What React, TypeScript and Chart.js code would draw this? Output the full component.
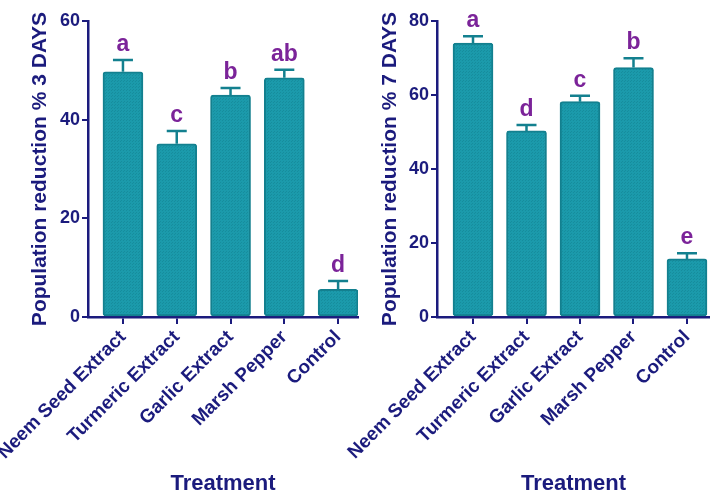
import React, { useEffect, useRef } from 'react';
import { Chart, registerables } from 'chart.js';

Chart.register(...registerables);

const categories = ['Neem Seed Extract', 'Turmeric Extract', 'Garlic Extract', 'Marsh Pepper', 'Control'];

const days3Values = [49.7, 35.1, 45.0, 48.5, 5.6];
const days3Errors = [2.4, 2.6, 1.4, 1.6, 1.7];
const days3Letters = ['a', 'c', 'b', 'ab', 'd'];
const days3Ticks = [0, 20, 40, 60];

const days7Values = [74.0, 50.3, 58.2, 67.4, 15.7];
const days7Errors = [1.9, 1.6, 1.6, 2.5, 1.5];
const days7Letters = ['a', 'd', 'c', 'b', 'e'];
const days7Ticks = [0, 20, 40, 60, 80];

const NAVY = '#1b1b7d';
const PURPLE = '#7b2399';
const TEAL = '#1b9aab';
const TEAL_DOT = '#168d9d';
const TEAL_DARK = '#13808f';
const FONT = "'Liberation Sans', Arial, sans-serif";

function makePattern(): CanvasPattern | string {
  const c = document.createElement('canvas');
  c.width = 3;
  c.height = 3;
  const g = c.getContext('2d');
  if (!g) return TEAL;
  g.fillStyle = TEAL;
  g.fillRect(0, 0, 3, 3);
  g.fillStyle = TEAL_DOT;
  g.fillRect(0, 0, 1, 1);
  g.fillRect(1, 2, 1, 1);
  const pat = g.createPattern(c, 'repeat');
  return pat || TEAL;
}

type PanelProps = {
  values: number[];
  errors: number[];
  letters: string[];
  ticks: number[];
  yTitle: string;
  left: number;
  width: number;
  padLeft: number;
  axisLeft: number;
  padRight: number;
  xMin: number;
  xMax: number;
};

function Panel(p: PanelProps) {
  const ref = useRef<HTMLCanvasElement | null>(null);
  useEffect(() => {
    const canvas = ref.current!;
    const errorPlugin = {
      id: 'errLetters',
      afterDatasetsDraw(chart: any) {
        const ctx = chart.ctx;
        const xs = chart.scales.x;
        const ys = chart.scales.y;
        ctx.save();
        p.values.forEach((v, i) => {
          const x = xs.getPixelForValue(i);
          const y0 = ys.getPixelForValue(v);
          const y1 = ys.getPixelForValue(v + p.errors[i]);
          ctx.strokeStyle = TEAL_DARK;
          ctx.lineWidth = 2.5;
          ctx.beginPath();
          ctx.moveTo(x, y0);
          ctx.lineTo(x, y1);
          ctx.moveTo(x - 10, y1);
          ctx.lineTo(x + 10, y1);
          ctx.stroke();
          ctx.fillStyle = PURPLE;
          ctx.font = `bold 23px ${FONT}`;
          ctx.textAlign = 'center';
          ctx.textBaseline = 'alphabetic';
          ctx.fillText(p.letters[i], x, y1 - 9);
        });
        ctx.restore();
      },
    };
    const chart = new Chart(canvas, {
      type: 'bar',
      data: {
        datasets: [
          {
            data: p.values.map((v, i) => ({ x: i, y: v })),
            backgroundColor: makePattern(),
            borderColor: TEAL_DARK,
            borderWidth: 2,
            borderRadius: 3,
            borderSkipped: false,
            barThickness: 40,
          },
        ],
      },
      options: {
        responsive: false,
        animation: false,
        devicePixelRatio: 1,
        layout: { padding: { left: p.padLeft, right: p.padRight, top: 21, bottom: 0 } },
        plugins: { legend: { display: false }, tooltip: { enabled: false } },
        scales: {
          x: {
            type: 'linear',
            offset: false,
            min: p.xMin,
            max: p.xMax,
            afterBuildTicks: (s: any) => {
              s.ticks = categories.map((_, i) => ({ value: i }));
            },
            afterFit: (s: any) => {
              s.height = 497 - 21 - 296;
              s.paddingLeft = 0;
              s.paddingRight = 0;
            },
            ticks: {
              autoSkip: false,
              minRotation: 45,
              maxRotation: 45,
              padding: 2,
              color: NAVY,
              font: { family: FONT, weight: 'bold', size: 19 },
              callback: (v: any) => categories[v] ?? '',
            },
            grid: { display: true, offset: false, drawOnChartArea: false, drawTicks: true, tickLength: 7, color: NAVY, lineWidth: 2 },
            border: { display: true, color: NAVY, width: 2.5 },
            title: {
              display: true,
              text: 'Treatment',
              color: NAVY,
              font: { family: FONT, weight: 'bold', size: 22 },
              padding: { top: 0, bottom: 0 },
            },
          },
          y: {
            min: 0,
            max: p.ticks[p.ticks.length - 1],
            afterBuildTicks: (s: any) => {
              s.ticks = p.ticks.map((t) => ({ value: t }));
            },
            afterFit: (s: any) => {
              s.width = p.axisLeft - p.padLeft;
              s.paddingTop = 0;
              s.paddingBottom = 0;
            },
            ticks: {
              padding: 2,
              color: NAVY,
              font: { family: FONT, weight: 'bold', size: 18 },
            },
            grid: { display: true, drawOnChartArea: false, drawTicks: true, tickLength: 6, color: NAVY, lineWidth: 2 },
            border: { display: true, color: NAVY, width: 2.5 },
            title: {
              display: true,
              text: p.yTitle,
              color: NAVY,
              font: { family: FONT, weight: 'bold', size: 21 },
              padding: { top: 4, bottom: 4 },
            },
          },
        },
      },
      plugins: [errorPlugin],
    } as any);
    return () => chart.destroy();
  }, []);
  return (
    <canvas
      ref={ref}
      width={p.width}
      height={497}
      style={{ position: 'absolute', top: 0, left: p.left, display: 'block', width: p.width, height: 497 }}
    />
  );
}

export default function App() {
  return (
    <div style={{ position: 'absolute', left: 0, top: 0, width: 710, height: 497, background: '#fff', overflow: 'hidden' }}>
      <Panel
        values={days3Values}
        errors={days3Errors}
        letters={days3Letters}
        ticks={days3Ticks}
        yTitle="Population reduction % 3 DAYS"
        left={0}
        width={360}
        padLeft={24}
        axisLeft={88}
        padRight={2}
        xMin={-0.65}
        xMax={4.37}
      />
      <Panel
        values={days7Values}
        errors={days7Errors}
        letters={days7Letters}
        ticks={days7Ticks}
        yTitle="Population reduction % 7 DAYS"
        left={330}
        width={380}
        padLeft={44}
        axisLeft={107}
        padRight={0}
        xMin={-0.673}
        xMax={4.43}
      />
    </div>
  );
}
